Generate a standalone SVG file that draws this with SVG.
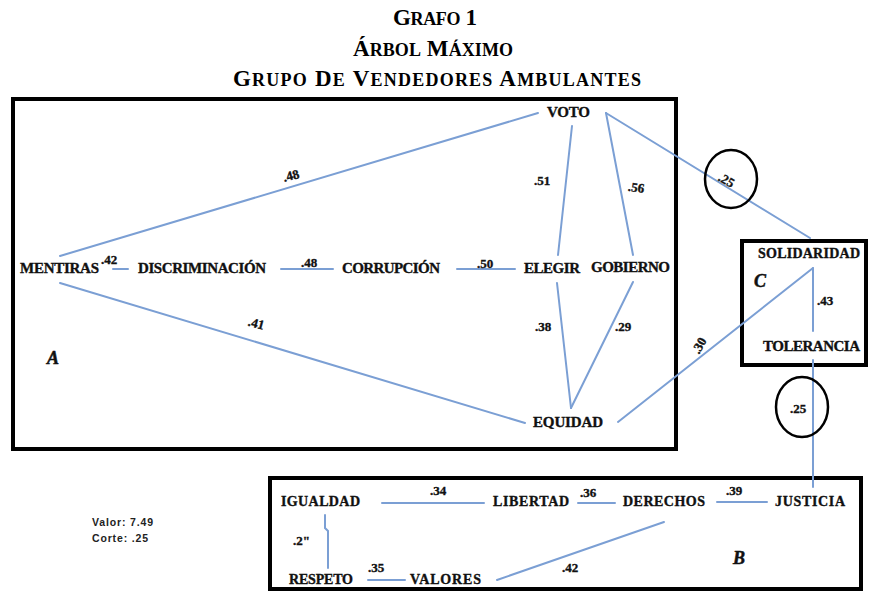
<svg xmlns="http://www.w3.org/2000/svg" width="869" height="592" viewBox="0 0 869 592">
<style>
.t{font-family:"Liberation Serif","Times New Roman",serif;font-weight:bold;fill:#111;stroke:#111;stroke-width:0.35}
.n{font-size:15px}
.s{font-size:14px}
.l{font-size:13px}
.ar{font-family:"Liberation Serif",serif;font-weight:bold;font-style:italic;font-size:18px;fill:#111;stroke:#111;stroke-width:0.5}
.ti{font-family:"Liberation Serif","Times New Roman",serif;font-weight:bold;font-size:23px;fill:#000}
.sc{font-size:18px}
.box{fill:none;stroke:#000;stroke-width:4}
.c{fill:none;stroke:#7b9fd4;stroke-width:2;stroke-linecap:round}
.ring{fill:none;stroke:#000;stroke-width:2.5}
.v{font-family:"Liberation Sans",Arial,sans-serif;font-weight:bold;font-size:10.5px;fill:#222}
</style>
<rect width="869" height="592" fill="#fff"/>
<g id="title">
<text class="ti" x="393" y="25" textLength="84">G<tspan class="sc">RAFO</tspan> 1</text>
<text class="ti" x="353" y="56" textLength="160">Á<tspan class="sc">RBOL</tspan> M<tspan class="sc">ÁXIMO</tspan></text>
<text class="ti" x="233" y="86" textLength="408">G<tspan class="sc">RUPO</tspan> D<tspan class="sc">E</tspan> V<tspan class="sc">ENDEDORES</tspan> A<tspan class="sc">MBULANTES</tspan></text>
</g>
<g id="groups">
<rect id="groupA" class="box" x="13" y="99" width="663" height="350"/>
<rect id="groupC" class="box" x="742" y="241" width="124" height="124"/>
<rect id="groupB" class="box" x="270" y="478" width="591" height="111"/>
<text class="ar" x="47" y="364">A</text>
<text class="ar" x="754" y="287">C</text>
<text class="ar" x="733" y="564">B</text>
</g>
<g id="connectors">
<line class="c" x1="60" y1="256" x2="538" y2="113"/>
<line class="c" x1="113" y1="269" x2="128" y2="269"/>
<line class="c" x1="281" y1="269" x2="333" y2="269"/>
<line class="c" x1="457" y1="269" x2="515" y2="269"/>
<line class="c" x1="572" y1="126" x2="558" y2="255"/>
<line class="c" x1="606" y1="113" x2="633" y2="255"/>
<line class="c" x1="606" y1="113" x2="810" y2="238"/>
<line class="c" x1="557" y1="283" x2="571" y2="408"/>
<line class="c" x1="633" y1="282" x2="571" y2="408"/>
<line class="c" x1="60" y1="283" x2="525" y2="423" stroke-width="2.5"/>
<line class="c" x1="618" y1="422" x2="813" y2="268"/>
<line class="c" x1="813" y1="268" x2="813" y2="331"/>
<line class="c" x1="813" y1="360" x2="813" y2="487"/>
<line class="c" x1="382" y1="503" x2="484" y2="503" stroke-width="2.5"/>
<line class="c" x1="578" y1="503" x2="615" y2="503" stroke-width="2.5"/>
<line class="c" x1="717" y1="502" x2="767" y2="502" stroke-width="2.5"/>
<polyline class="c" points="325,515 325,528 328,531 328,568"/>
<line class="c" x1="368" y1="580" x2="405" y2="580" stroke-width="2.5"/>
<line class="c" x1="497" y1="580" x2="664" y2="522"/>
<ellipse class="ring" cx="731" cy="179" rx="26" ry="29"/>
<ellipse class="ring" cx="802" cy="407" rx="26" ry="30"/>
</g>
<g id="edge-labels">
<text class="t l" x="283" y="180" transform="rotate(-15 291 176)">.48</text>
<text class="t l" x="101" y="264">.42</text>
<text class="t l" x="301" y="267">.48</text>
<text class="t l" x="477" y="268">.50</text>
<text class="t l" x="534" y="185">.51</text>
<text class="t l" x="628" y="192" transform="rotate(8 637 188)">.56</text>
<text class="t l" x="535" y="331">.38</text>
<text class="t l" x="615" y="331">.29</text>
<text class="t l" x="248" y="328" transform="rotate(15 257 324)">.41</text>
<text class="t l" x="691" y="349" transform="rotate(-60 700 345)">.30</text>
<text class="t l" x="718" y="185" transform="rotate(30 727 181)">.25</text>
<text class="t l" x="817" y="305">.43</text>
<text class="t l" x="790" y="413">.25</text>
<text class="t l" x="430" y="495">.34</text>
<text class="t l" x="580" y="497">.36</text>
<text class="t l" x="726" y="495">.39</text>
<text class="t l" x="368" y="572">.35</text>
<text class="t l" x="562" y="572">.42</text>
<text class="t l" x="293" y="545">.2"</text>
</g>
<g id="node-voto"><text class="t n" x="547" y="117" textLength="43">VOTO</text></g>
<g id="node-mentiras"><text class="t n" x="20" y="273" textLength="79">MENTIRAS</text></g>
<g id="node-discriminacion"><text class="t n" x="138" y="273" textLength="128">DISCRIMINACIÓN</text></g>
<g id="node-corrupcion"><text class="t n" x="342" y="273" textLength="98">CORRUPCIÓN</text></g>
<g id="node-elegir"><text class="t n" x="524" y="273" textLength="56">ELEGIR</text></g>
<g id="node-gobierno"><text class="t n" x="591" y="272" textLength="79">GOBIERNO</text></g>
<g id="node-equidad"><text class="t n" x="533" y="427" textLength="70">EQUIDAD</text></g>
<g id="node-solidaridad"><text class="t s" x="758" y="258" textLength="102">SOLIDARIDAD</text></g>
<g id="node-tolerancia"><text class="t n" x="763" y="351" textLength="97">TOLERANCIA</text></g>
<g id="node-igualdad"><text class="t s" x="281" y="506" textLength="79">IGUALDAD</text></g>
<g id="node-libertad"><text class="t s" x="493" y="506" textLength="76">LIBERTAD</text></g>
<g id="node-derechos"><text class="t s" x="623" y="506" textLength="82">DERECHOS</text></g>
<g id="node-justicia"><text class="t s" x="775" y="506" textLength="70">JUSTICIA</text></g>
<g id="node-respeto"><text class="t s" x="289" y="584" textLength="64">RESPETO</text></g>
<g id="node-valores"><text class="t s" x="410" y="584" textLength="71">VALORES</text></g>
<g id="stats">
<text class="v" x="92" y="526" textLength="61">Valor: 7.49</text>
<text class="v" x="92" y="542" textLength="56">Corte: .25</text>
</g>
</svg>
